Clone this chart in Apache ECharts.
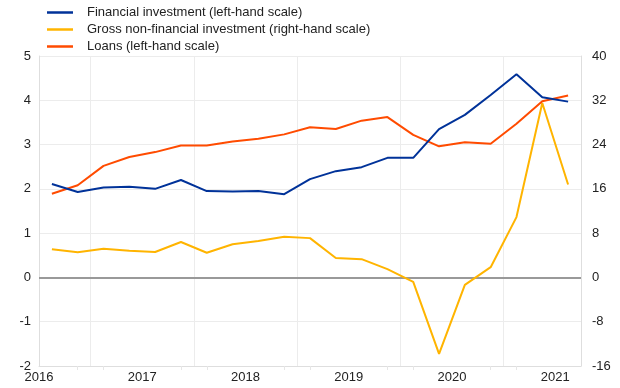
<!DOCTYPE html>
<html>
<head>
<meta charset="utf-8">
<script src="https://cdn.jsdelivr.net/npm/echarts@6/dist/echarts.min.js"></script>
<style>html,body{margin:0;padding:0;background:#fff}#c{width:620px;height:388px}</style>
</head>
<body>
<div id="c"></div>
<script>
const quarters = ['2016Q1','2016Q2','2016Q3','2016Q4','2017Q1','2017Q2','2017Q3','2017Q4','2018Q1','2018Q2','2018Q3','2018Q4','2019Q1','2019Q2','2019Q3','2019Q4','2020Q1','2020Q2','2020Q3','2020Q4','2021Q1'];
const financialInvestment = [2.11,1.93,2.03,2.05,2.00,2.20,1.95,1.94,1.95,1.88,2.22,2.40,2.49,2.70,2.70,3.35,3.67,4.12,4.59,4.07,3.97];
const grossNonFinancial = [5.1,4.55,5.2,4.8,4.6,6.4,4.45,6.0,6.6,7.35,7.1,3.5,3.3,1.5,-0.8,-13.8,-1.35,1.85,10.9,31.5,16.8];
const loans = [1.89,2.08,2.52,2.72,2.83,2.98,2.98,3.07,3.13,3.23,3.39,3.35,3.54,3.62,3.22,2.96,3.05,3.02,3.47,3.98,4.11];
const yearLabels = ['2016','2017','2018','2019','2020','2021'];
const names = ['Financial investment (left-hand scale)','Gross non-financial investment (right-hand scale)','Loans (left-hand scale)'];
const colors = ['#003299','#ffb400','#ff4b00'];

const font = 'Liberation Sans, Arial, sans-serif';
const chart = echarts.init(document.getElementById('c'));
chart.setOption({
  animation: false,
  color: colors,
  textStyle: {fontFamily: font},
  grid: {left: 39, right: 39, top: 56, bottom: 22, containLabel: false},
  legend: {
    orient: 'vertical', left: 47, top: 5, itemGap: 2, padding: 0,
    icon: 'rect', itemWidth: 26, itemHeight: 2.5,
    textStyle: {fontFamily: font, fontSize: 13, color: '#222', lineHeight: 15, padding: [0,0,0,9]},
    data: names
  },
  xAxis: [
    {
      type: 'category', data: quarters, boundaryGap: true,
      axisLine: {show: true, onZero: false, lineStyle: {color: '#dedede', width: 1}},
      axisTick: {show: true, alignWithLabel: true, length: 4, lineStyle: {color: '#e6e6e6'},
        interval: function (i) { return i % 4 === 1 || i % 4 === 2; }},
      axisLabel: {show: false},
      splitLine: {show: true, lineStyle: {color: '#ececec', width: 1},
        interval: function (i) { return i % 4 === 2; }}
    },
    {
      type: 'value', min: 0, max: quarters.length, interval: 4, position: 'bottom',
      axisLine: {show: false, onZero: false}, axisTick: {show: false}, splitLine: {show: false},
      axisLabel: {show: true, fontSize: 13, color: '#222', margin: 5, fontFamily: font,
        formatter: function (v) { const k = Math.round(v / 4); return (v % 4 === 0 && k < yearLabels.length) ? yearLabels[k] : ''; }}
    }
  ],
  yAxis: [
    {
      type: 'value', min: -2, max: 5, interval: 1, position: 'left',
      axisLine: {show: true, lineStyle: {color: '#dedede'}}, axisTick: {show: false},
      axisLabel: {fontSize: 13, color: '#222', margin: 8, fontFamily: font},
      splitLine: {show: true, lineStyle: {color: '#ececec'}}
    },
    {
      type: 'value', min: -16, max: 40, interval: 8, position: 'right',
      axisLine: {show: true, lineStyle: {color: '#dedede'}}, axisTick: {show: false},
      axisLabel: {fontSize: 13, color: '#222', margin: 11, fontFamily: font},
      splitLine: {show: false}
    }
  ],
  series: [
    {name: names[0], type: 'line', data: financialInvestment, yAxisIndex: 0, xAxisIndex: 0,
      symbol: 'none', lineStyle: {width: 2, color: colors[0]}, z: 4},
    {name: names[1], type: 'line', data: grossNonFinancial, yAxisIndex: 1, xAxisIndex: 0,
      symbol: 'none', lineStyle: {width: 2, color: colors[1]}, z: 3},
    {name: names[2], type: 'line', data: loans, yAxisIndex: 0, xAxisIndex: 0,
      symbol: 'none', lineStyle: {width: 2, color: colors[2]}, z: 3,
      markLine: {silent: true, symbol: 'none', label: {show: false}, z: 2,
        lineStyle: {color: '#999', width: 2, type: 'solid'}, data: [{yAxis: 0}]}}
  ]
});
</script>
</body>
</html>
